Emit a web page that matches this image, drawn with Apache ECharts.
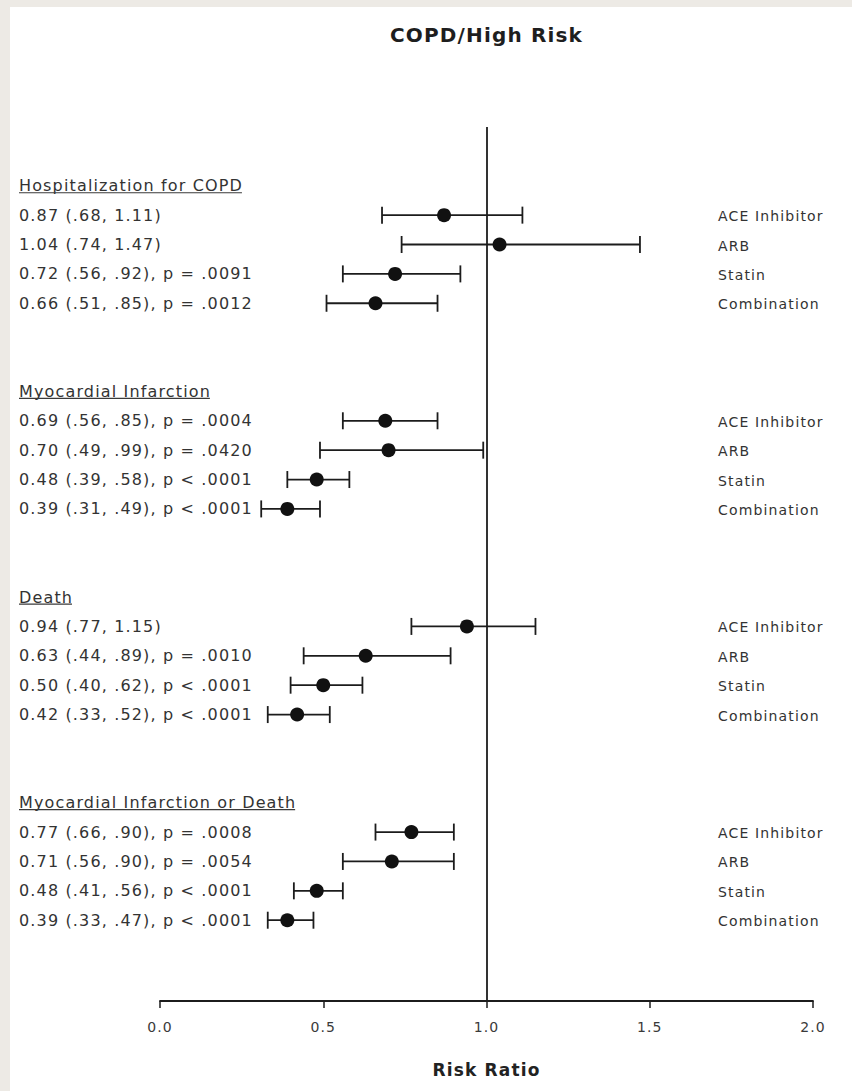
<!DOCTYPE html>
<html>
<head>
<meta charset="utf-8">
<script src="https://cdn.jsdelivr.net/npm/echarts@6/dist/echarts.min.js"></script>
<style>
  html, body { margin: 0; padding: 0; background: #edeae5; }
  #chart { position: absolute; left: 10px; top: 7px; width: 842px; height: 1084px; background: #fff; }
  #chart svg text { letter-spacing: 1.15px; }
</style>
</head>
<body>
<div id="chart"></div>
<script>
// Outcomes, treatments and risk ratios with 95% confidence limits
const outcomes = ['Hospitalization for COPD', 'Myocardial Infarction', 'Death', 'Myocardial Infarction or Death'];
const treatments = ['ACE Inhibitor', 'ARB', 'Statin', 'Combination'];

const ratioHosp = [0.87, 1.04, 0.72, 0.66];
const lowerHosp = [0.68, 0.74, 0.56, 0.51];
const upperHosp = [1.11, 1.47, 0.92, 0.85];
const pHosp = ['', '', 'p = .0091', 'p = .0012'];

const ratioMI = [0.69, 0.70, 0.48, 0.39];
const lowerMI = [0.56, 0.49, 0.39, 0.31];
const upperMI = [0.85, 0.99, 0.58, 0.49];
const pMI = ['p = .0004', 'p = .0420', 'p < .0001', 'p < .0001'];

const ratioDeath = [0.94, 0.63, 0.50, 0.42];
const lowerDeath = [0.77, 0.44, 0.40, 0.33];
const upperDeath = [1.15, 0.89, 0.62, 0.52];
const pDeath = ['', 'p = .0010', 'p < .0001', 'p < .0001'];

const ratioMIDeath = [0.77, 0.71, 0.48, 0.39];
const lowerMIDeath = [0.66, 0.56, 0.41, 0.33];
const upperMIDeath = [0.90, 0.90, 0.56, 0.47];
const pMIDeath = ['p = .0008', 'p = .0054', 'p < .0001', 'p < .0001'];

const tickLabels = ['0.0', '0.5', '1.0', '1.5', '2.0'];

const groups = [
  { title: outcomes[0], ratio: ratioHosp, lower: lowerHosp, upper: upperHosp, p: pHosp },
  { title: outcomes[1], ratio: ratioMI, lower: lowerMI, upper: upperMI, p: pMI },
  { title: outcomes[2], ratio: ratioDeath, lower: lowerDeath, upper: upperDeath, p: pDeath },
  { title: outcomes[3], ratio: ratioMIDeath, lower: lowerMIDeath, upper: upperMIDeath, p: pMIDeath }
];

// Row layout: each outcome block takes a heading row, four treatment rows and two blank rows
const GROUP_STEP = 7;
const LETTER_SPACING = 1.15;
const FONT = '"DejaVu Sans", sans-serif';
const TEXT_COLOR = '#333';
const INK = '#1c1c1c';

function ciText(v) {
  const s = v.toFixed(2);
  return v < 1 ? s.slice(1) : s;
}

const textRows = [];
const ciData = [];
const pointData = [];
groups.forEach((g, gi) => {
  const base = gi * GROUP_STEP;
  textRows.push({ slot: base, left: g.title, right: '', header: true });
  g.ratio.forEach((r, i) => {
    const slot = base + 1 + i;
    let label = r.toFixed(2) + ' (' + ciText(g.lower[i]) + ', ' + ciText(g.upper[i]) + ')';
    if (g.p[i]) label += ', ' + g.p[i];
    textRows.push({ slot: slot, left: label, right: treatments[i], header: false });
    ciData.push([g.lower[i], g.upper[i], slot]);
    pointData.push([r, slot]);
  });
});

const measureCtx = document.createElement('canvas').getContext('2d');
function textWidth(str, font) {
  measureCtx.font = font;
  return measureCtx.measureText(str).width + (str.length - 1) * LETTER_SPACING;
}

const chart = echarts.init(document.getElementById('chart'), null, { renderer: 'svg' });

chart.setOption({
  animation: false,
  backgroundColor: '#ffffff',
  grid: { left: 150, right: 39, top: 120, bottom: 90 },
  xAxis: [
    {
      type: 'value',
      position: 'bottom',
      min: 0,
      max: 2,
      interval: 0.5,
      name: 'Risk Ratio',
      nameLocation: 'middle',
      nameGap: 60,
      nameTextStyle: { fontFamily: FONT, fontSize: 17, fontWeight: 'bold', color: '#222' },
      axisLine: { show: true, onZero: false, lineStyle: { color: INK, width: 1.8 } },
      axisTick: { show: true, inside: false, length: 7, lineStyle: { color: INK, width: 1.5 } },
      axisLabel: {
        margin: 19,
        fontFamily: FONT,
        fontSize: 14,
        color: '#3a3a3a',
        formatter: (v, i) => tickLabels[i]
      },
      splitLine: { show: false }
    },
    {
      type: 'value',
      position: 'top',
      min: 0,
      max: 2,
      name: 'COPD/High Risk',
      nameLocation: 'middle',
      nameGap: 82,
      nameTextStyle: { fontFamily: FONT, fontSize: 20, fontWeight: 'bold', color: '#1e1e1e' },
      axisLine: { show: false, onZero: false },
      axisTick: { show: false },
      axisLabel: { show: false },
      splitLine: { show: false }
    }
  ],
  yAxis: {
    type: 'value',
    inverse: true,
    min: -2,
    max: 27.75,
    show: false,
    axisLine: { onZero: false },
    splitLine: { show: false }
  },
  series: [
    {
      // confidence interval bars with end caps
      type: 'custom',
      data: ciData,
      encode: { x: [0, 1], y: 2 },
      clip: false,
      silent: true,
      z: 2,
      renderItem: function (params, api) {
        const a = api.coord([api.value(0), api.value(2)]);
        const b = api.coord([api.value(1), api.value(2)]);
        const h = 8.5;
        const style = { stroke: INK, lineWidth: 1.8 };
        return {
          type: 'group',
          children: [
            { type: 'line', shape: { x1: a[0], y1: a[1], x2: b[0], y2: b[1] }, style: style },
            { type: 'line', shape: { x1: a[0], y1: a[1] - h, x2: a[0], y2: a[1] + h }, style: style },
            { type: 'line', shape: { x1: b[0], y1: b[1] - h, x2: b[0], y2: b[1] + h }, style: style }
          ]
        };
      }
    },
    {
      // point estimates, with the line of no effect at 1.0
      type: 'scatter',
      data: pointData,
      symbol: 'circle',
      symbolSize: 14,
      itemStyle: { color: '#111', opacity: 1 },
      silent: true,
      z: 3,
      markLine: {
        silent: true,
        symbol: 'none',
        label: { show: false },
        lineStyle: { color: INK, width: 1.8, type: 'solid', opacity: 1 },
        data: [{ xAxis: 1 }]
      }
    },
    {
      // row text: outcome headings, estimates and treatment names
      type: 'custom',
      data: textRows.map(r => [0, r.slot]),
      encode: { x: 0, y: 1 },
      clip: false,
      silent: true,
      renderItem: function (params, api) {
        const row = textRows[params.dataIndex];
        const cs = params.coordSys;
        const y = api.coord([0, api.value(1)])[1];
        const lx = cs.x - 141;
        const leftFont = '16px ' + FONT;
        const children = [
          {
            type: 'text',
            x: lx,
            y: y,
            style: { text: row.left, font: leftFont, fill: TEXT_COLOR, align: 'left', verticalAlign: 'middle' }
          }
        ];
        if (row.header) {
          const w = textWidth(row.left, leftFont);
          children.push({
            type: 'line',
            shape: { x1: lx, y1: y + 7, x2: lx + w, y2: y + 7 },
            style: { stroke: '#3a3a3a', lineWidth: 1.2 }
          });
        }
        if (row.right) {
          children.push({
            type: 'text',
            x: cs.x + cs.width - 95,
            y: y + 1,
            style: { text: row.right, font: '14px ' + FONT, fill: TEXT_COLOR, align: 'left', verticalAlign: 'middle' }
          });
        }
        return { type: 'group', children: children };
      }
    }
  ]
});
</script>
</body>
</html>
